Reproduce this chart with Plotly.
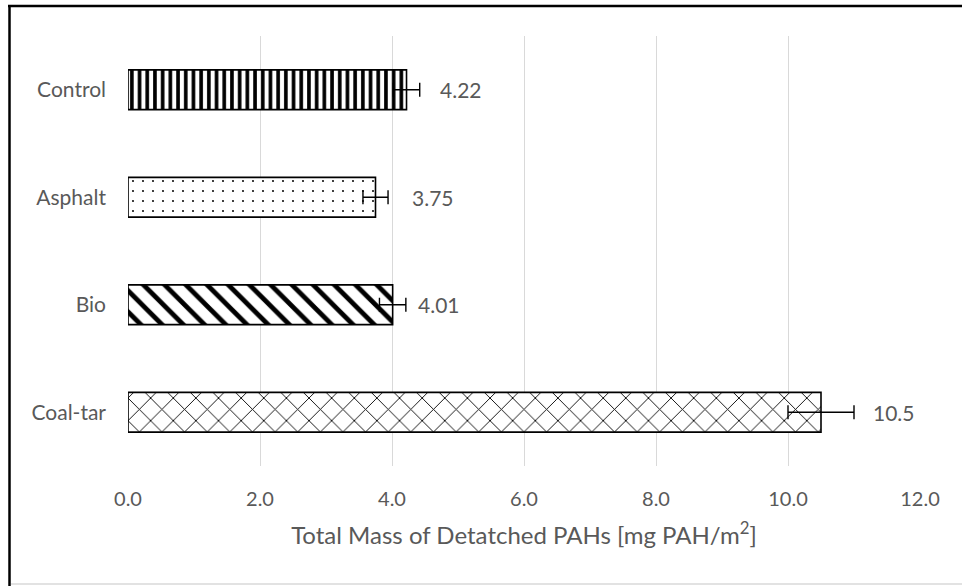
import plotly.graph_objects as go

# Categories listed top-to-bottom
categories = ["Control", "Asphalt", "Bio", "Coal-tar"]
values = [4.22, 3.75, 4.01, 10.5]
errors = [0.20, 0.19, 0.20, 0.50]
value_labels = ["4.22", "3.75", "4.01", "10.5"]
x_ticks = [0, 2, 4, 6, 8, 10, 12]
x_tick_labels = ["0.0", "2.0", "4.0", "6.0", "8.0", "10.0", "12.0"]

# Fill pattern per bar
patterns = [
    dict(shape="|", size=7.7, solidity=0.47),
    dict(shape=".", size=10, solidity=0.03),
    dict(shape="\\", size=15, solidity=0.32),
    dict(shape="x", size=16, solidity=0.11),
]
label_shift = [18, 22, 10, 17]

FONT = "Lato, 'Open Sans', sans-serif"
TEXT_COLOR = "#595959"

fig = go.Figure()
for cat, val, err, pat in zip(categories, values, errors, patterns):
    fig.add_trace(go.Bar(
        y=[cat], x=[val], orientation="h",
        width=0.37,
        marker=dict(
            color="white",
            line=dict(color="black", width=1.6),
            pattern=dict(shape=pat["shape"], size=pat["size"],
                         solidity=pat["solidity"], fgcolor="black",
                         bgcolor="white", fgopacity=1, fillmode="replace"),
        ),
        error_x=dict(type="data", array=[err], visible=True,
                     color="black", thickness=1.4, width=7),
        showlegend=False,
        hoverinfo="skip",
    ))

for cat, val, err, lab, dx in zip(categories, values, errors, value_labels, label_shift):
    fig.add_annotation(x=val + err, y=cat, text=lab, showarrow=False,
                       xanchor="left", xshift=dx,
                       font=dict(family=FONT, size=21, color=TEXT_COLOR))

# Outer frame (top and left edges visible, right side runs off the page)
PLOT_L, PLOT_W, PLOT_B, PLOT_H = 128, 792, 466, 430


def px_x(x):
    return (x - PLOT_L) / PLOT_W


def px_y(y):
    return (PLOT_B - y) / PLOT_H


fig.add_shape(type="line", xref="paper", yref="paper",
              x0=px_x(8), x1=px_x(990), y0=px_y(6), y1=px_y(6),
              line=dict(color="black", width=2.5))
fig.add_shape(type="line", xref="paper", yref="paper",
              x0=px_x(9.5), x1=px_x(9.5), y0=px_y(600), y1=px_y(5),
              line=dict(color="black", width=2.5))
fig.add_shape(type="line", xref="paper", yref="paper",
              x0=px_x(11), x1=px_x(990), y0=px_y(584), y1=px_y(584),
              line=dict(color="#d9d9d9", width=1.5))

fig.update_layout(
    width=962, height=586,
    margin=dict(l=128, r=42, t=36, b=120),
    plot_bgcolor="white", paper_bgcolor="white",
    barmode="overlay",
    font=dict(family=FONT, size=21, color=TEXT_COLOR),
    xaxis=dict(
        range=[0, 12], tickvals=x_ticks, ticktext=x_tick_labels,
        showgrid=True, gridcolor="#d9d9d9", gridwidth=1.4,
        zeroline=False, showline=False, ticks="",
        ticklabelstandoff=19,
        tickfont=dict(family=FONT, size=20, color=TEXT_COLOR),
        title=dict(text="Total Mass of Detatched PAHs [mg PAH/m<sup>2</sup>]",
                   font=dict(family=FONT, size=24, color=TEXT_COLOR),
                   standoff=18),
    ),
    yaxis=dict(
        categoryorder="array", categoryarray=categories[::-1],
        showgrid=False, zeroline=False, showline=False, ticks="",
        ticklabelstandoff=21,
        tickfont=dict(family=FONT, size=21, color=TEXT_COLOR),
    ),
)

fig.write_html("out.html")
